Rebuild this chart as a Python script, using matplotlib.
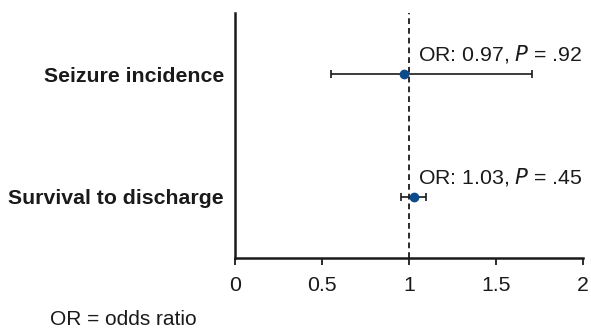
import matplotlib.pyplot as plt

# forest plot data
outcomes = ['Seizure incidence', 'Survival to discharge']
odds_ratio = [0.97, 1.03]
ci_low = [0.55, 0.955]
ci_high = [1.705, 1.10]
p_text = ['.92', '.45']
y_pos = [3, 1]

plt.rcParams['font.family'] = ['Liberation Sans', 'DejaVu Sans']

fig = plt.figure(figsize=(5.91, 3.31), dpi=100)
ax = fig.add_axes([235 / 591, 1 - 258 / 331, 348 / 591, 245 / 331])

ax.axvline(1, color='#1a1a1a', ls=(0, (3.2, 2.2)), lw=1.3, zorder=1)

for i in range(len(outcomes)):
    err = [[odds_ratio[i] - ci_low[i]], [ci_high[i] - odds_ratio[i]]]
    ax.errorbar(odds_ratio[i], y_pos[i], xerr=err, fmt='o', color='#1a1a1a',
                ecolor='#1a1a1a', elinewidth=1.2, capsize=3.2, capthick=1.2,
                markersize=6, markerfacecolor='#0d4a8a', markeredgecolor='#0d4a8a',
                zorder=3)
    ax.text(1.05, y_pos[i] + 0.15,
            'OR: %.2f, $\\it{P}$ = %s' % (odds_ratio[i], p_text[i]),
            fontsize=15.3, color='#1a1a1a', va='bottom', ha='left')

ax.set_xlim(0, 2)
ax.set_ylim(0, 4)
ax.set_xticks([0, 0.5, 1, 1.5, 2])
ax.set_xticklabels(['0', '0.5', '1', '1.5', '2'])
ax.set_yticks(y_pos)
ax.set_yticklabels(outcomes, fontweight='bold')
ax.tick_params(axis='x', length=5, width=1.3, labelsize=15.3, pad=8, colors='#1a1a1a')
ax.tick_params(axis='y', length=0, labelsize=15.3, pad=8, colors='#1a1a1a')

for s in ['top', 'right']:
    ax.spines[s].set_visible(False)
for s in ['left', 'bottom']:
    ax.spines[s].set_linewidth(1.8)
    ax.spines[s].set_color('#1a1a1a')
ax.spines['bottom'].set_bounds(0, 2)

fig.text(50 / 591, 1 - 325 / 331, 'OR = odds ratio', fontsize=15, color='#1a1a1a',
         va='baseline', ha='left')

fig.savefig('out.png', dpi=100)
